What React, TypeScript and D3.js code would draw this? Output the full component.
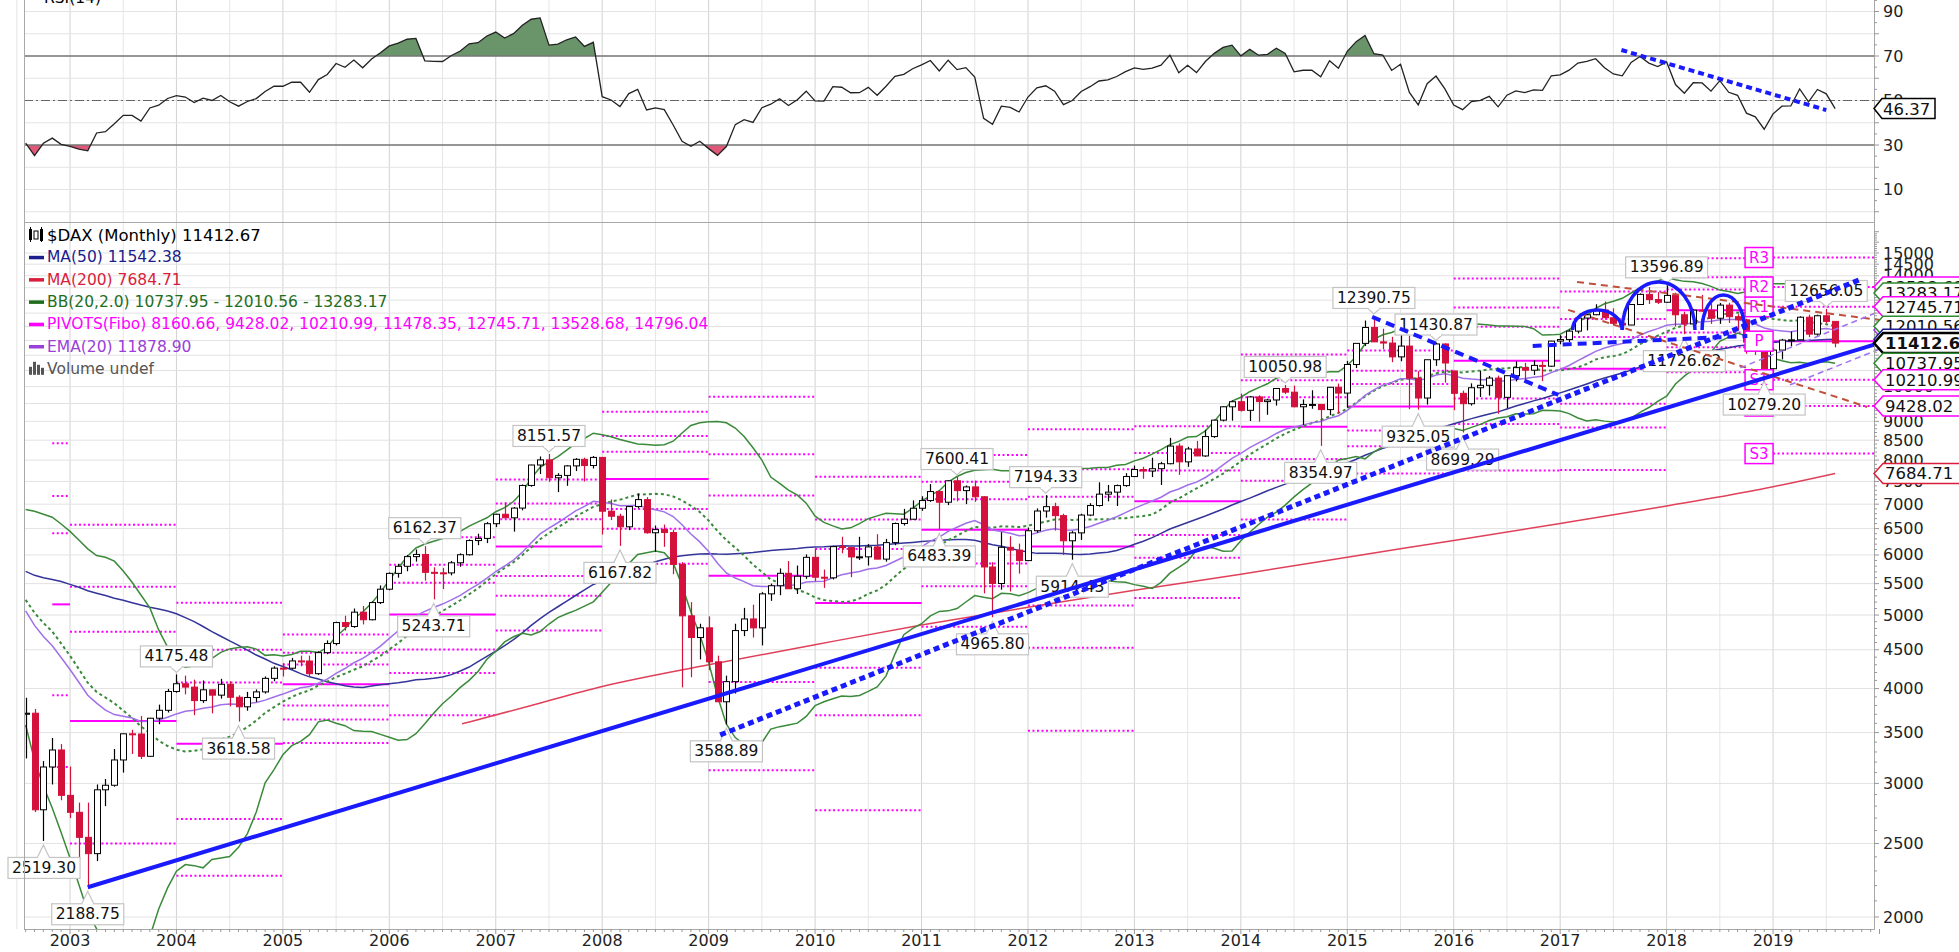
import React from "react";
import * as d3 from "d3";

const WIDTH = 1959;
const HEIGHT = 952;

// ---------- DATA ----------
const firstMonth = "2002-08";

const openVals = [
  3700, 3712, 2769, 3153, 3320,
  2893, 2748, 2547, 2424, 2942, 2983, 3221, 3487, 3485, 3257, 3656, 3745,
  3965, 4059, 4018, 3857, 3985, 3921, 4053, 3896, 3785, 3893, 3960, 4126,
  4256, 4255, 4350, 4349, 4185, 4461, 4586, 4887, 4829, 5044, 4929, 5193,
  5408, 5674, 5797, 5970, 6009, 5692, 5683, 5682, 5859, 6004, 6268, 6309,
  6597, 6789, 6716, 6917, 7409, 7883, 8007, 7584, 7638, 7862, 8020, 7871,
  8067, 6852, 6748, 6535, 6949, 7097, 6418, 6480, 6422, 5831, 4988, 4670,
  4810, 4338, 3843, 4085, 4770, 4941, 4809, 5332, 5465, 5675, 5415, 5625,
  5957, 5608, 5598, 6154, 6136, 5964, 5966, 6148, 5925, 6229, 6601, 6688,
  6914, 7077, 7273, 7041, 7514, 7294, 7376, 7159, 5785, 5502, 6141, 6089,
  5898, 6458, 6856, 6947, 6761, 6264, 6416, 6772, 6971, 7216, 7260, 7406,
  7612, 7776, 7741, 7795, 7914, 8349, 7959, 8276, 8103, 8594, 9033, 9406,
  9552, 9306, 9692, 9556, 9603, 9943, 9833, 9407, 9470, 9474, 9327, 9980,
  9806, 10694, 11402, 11966, 11454, 11414, 10945, 11309, 10259, 9660, 10850, 11382,
  10485, 9798, 9495, 9966, 10039, 10263, 9680, 10337, 10593, 10511, 10665, 10640,
  11481, 11535, 11834, 12313, 12438, 12615, 12325, 12118, 12056, 12829, 13230, 13024,
  12918, 13189, 12436, 12097, 12612, 12605, 12306, 12806, 12364, 12247, 11448, 11257,
  10559, 11173, 11516, 11526, 12344, 11727, 12399, 12189,
];

const highVals = [
  3890, 3760, 3210, 3443, 3380,
  3157, 2830, 2830, 2990, 3040, 3330, 3490, 3530, 3680, 3660, 3810, 3996,
  4175.48, 4160, 4110, 4100, 3990, 4120, 4090, 3920, 3960, 3990, 4150, 4280,
  4320, 4390, 4420, 4420, 4480, 4630, 4900, 4990, 5100, 5140, 5210, 5470,
  5690, 5840, 6000, 6100, 6162.37, 5780, 5770, 5890, 6030, 6290, 6400, 6630,
  6800, 7040, 6940, 7430, 7890, 8090, 8151.57, 7690, 7880, 8050, 8060, 8100,
  8080, 7100, 6800, 6960, 7230, 7150, 6560, 6580, 6480, 5870, 5200, 4870,
  4980, 4420, 4160, 4870, 5110, 5160, 5360, 5500, 5760, 5890, 5810, 6010,
  6110, 5740, 6170, 6340, 6150, 6340, 6200, 6390, 6300, 6620, 6900, 7080,
  7170, 7440, 7300, 7530, 7600.41, 7410, 7520, 7170, 5870, 6430, 6350, 6210,
  6520, 6910, 7194.33, 7030, 6800, 6450, 6800, 7020, 7480, 7420, 7430, 7690,
  7870, 7840, 8060, 7960, 8560, 8420, 8330, 8480, 8770, 9050, 9420, 9590,
  9790, 9720, 9740, 9640, 9950, 10050.98, 10030, 9620, 9890, 9480, 9990, 10093,
  10810, 11410, 12220, 12390.75, 11920, 11630, 11800, 11670, 10480, 10850, 11430.87, 11400,
  10490, 9880, 10100, 10490, 10330, 10340, 10340, 10800, 10750, 10830, 10800, 11490,
  11690, 11890, 12320, 12480, 12840, 12950, 12680, 12320, 12840, 13270, 13525.56, 13320,
  13596.89, 13300, 12550, 12650, 13204, 12870, 12890, 12900, 12460, 12290, 11630, 11480,
  11250, 11560, 11820, 12380, 12440, 12440, 12656.05, 12190,
];

const lowVals = [
  3236, 2750, 2519.3, 2990, 2850,
  2700, 2386, 2188.75, 2370, 2800, 2970, 3100, 3280, 3230, 3250, 3590, 3720,
  3950, 3930, 3690, 3830, 3710, 3880, 3790, 3618.58, 3740, 3840, 3940, 4090,
  4150, 4240, 4280, 4150, 4170, 4440, 4560, 4770, 4810, 4860, 4920, 5170,
  5390, 5600, 5710, 5880, 5550, 5243.71, 5410, 5640, 5790, 5990, 6180, 6220,
  6530, 6710, 6440, 6870, 7380, 7670, 7490, 7260, 7400, 7740, 7500, 7800,
  6384, 6670, 6167.82, 6470, 6910, 6400, 6060, 6150, 5660, 4014, 4140, 4370,
  4230, 3840, 3588.89, 3940, 4690, 4670, 4560, 5220, 5310, 5410, 5330, 5580,
  5540, 5430, 5570, 6030, 5610, 5910, 5810, 5920, 5880, 6180, 6560, 6680,
  6860, 7050, 6483.39, 6980, 7060, 7000, 7050, 5340, 4965.8, 5400, 5370, 5670,
  5890, 6420, 6720, 6460, 6000, 5914.43, 6280, 6750, 6950, 7060, 6960, 7380,
  7600, 7560, 7600, 7420, 7900, 7650, 7840, 8100, 8080, 8560, 9000, 9020,
  9270, 9010, 8990, 9180, 9440, 9780, 9390, 8900, 9350, 8354.97, 9170, 9220,
  9380, 10580, 11310, 11450, 11200, 10770, 10800, 9338, 9325.05, 9470, 10650, 10120,
  9310, 8699.29, 9440, 9690, 9730, 9210, 9370, 10160, 10200, 10360, 10170, 10620,
  11370, 11450, 11750, 11860, 12420, 12310, 12040, 11870, 12050, 12820, 12850, 12850,
  12900, 12000, 11726.62, 12000, 12550, 12100, 12100, 12130, 11870, 11050, 11010, 10279.2,
  10390, 10860, 11300, 11520, 11620, 11670, 12120, 11266,
];

const closeVals = [
  3712, 2769, 3153, 3320, 2893,
  2748, 2547, 2424, 2942, 2983, 3221, 3487, 3485, 3257, 3656, 3745, 3965,
  4059, 4018, 3857, 3985, 3921, 4053, 3896, 3785, 3893, 3960, 4126, 4256,
  4255, 4350, 4349, 4185, 4461, 4586, 4887, 4829, 5044, 4929, 5193, 5408,
  5674, 5797, 5970, 6009, 5692, 5683, 5682, 5859, 6004, 6268, 6309, 6597,
  6789, 6716, 6917, 7409, 7883, 8007, 7584, 7638, 7862, 8020, 7871, 8067,
  6852, 6748, 6535, 6949, 7097, 6418, 6480, 6422, 5831, 4988, 4670, 4810,
  4338, 3843, 4085, 4770, 4941, 4809, 5332, 5465, 5675, 5415, 5625, 5957,
  5608, 5598, 6154, 6136, 5964, 5966, 6148, 5925, 6229, 6601, 6688, 6914,
  7077, 7273, 7041, 7514, 7294, 7376, 7159, 5785, 5502, 6141, 6089, 5898,
  6458, 6856, 6947, 6761, 6264, 6416, 6772, 6971, 7216, 7260, 7406, 7612,
  7776, 7741, 7795, 7914, 8349, 7959, 8276, 8103, 8594, 9033, 9406, 9552,
  9306, 9692, 9556, 9603, 9943, 9833, 9407, 9470, 9474, 9327, 9980, 9806,
  10694, 11402, 11966, 11454, 11414, 10945, 11309, 10259, 9660, 10850, 11382, 10743,
  9798, 9495, 9966, 10039, 10263, 9680, 10337, 10593, 10511, 10665, 10640, 11481,
  11535, 11834, 12313, 12438, 12615, 12325, 12118, 12056, 12829, 13230, 13024, 12917.64,
  13189, 12436, 12097, 12612, 12605, 12306, 12806, 12364, 12247, 11448, 11257, 10558.96,
  11173, 11516, 11526, 12344, 11727, 12399, 12189, 11412.67,
];

// monthly closes Jul 1998 .. Jul 2002 (history used by the indicators)
const preCloses = [
  6171, 5186, 4834, 4671, 5064, 5002,
  5184, 4977, 4884, 5373, 5121, 5379, 5107, 5313, 5150, 5525, 6130, 6958,
  6835, 7644, 7599, 7415, 7109, 6898, 7191, 7313, 6798, 7077, 6372, 6434,
  6796, 6208, 5830, 6265, 6123, 6058, 5862, 5188, 4308, 4560, 5160, 5160,
  5108, 5039, 5397, 5041, 4818, 4383, 3701,
];

// yearly H/L/C before the monthly data (for the Fibonacci pivots)
const preYears = [2001, 2002];
const preYearHigh = [6795, 5467];
const preYearLow = [3539, 2519.3];
const preYearClose = [5160, 2893];

// MA(200): month index (0 = Jan 2003) and value
const ma200Months = [44.2, 52, 60, 72, 84, 96, 108, 120, 132, 144, 156, 168, 180, 190, 199];
const ma200Vals = [3594, 3800, 4025, 4300, 4570, 4850, 5120, 5390, 5660, 5960, 6270, 6600, 6960, 7300, 7684.71];

const yearTicks = [2003, 2004, 2005, 2006, 2007, 2008, 2009, 2010, 2011, 2012, 2013, 2014, 2015, 2016, 2017, 2018, 2019];
const priceTicks = [2000, 2500, 3000, 3500, 4000, 4500, 5000, 5500, 6000, 6500, 7000, 7500, 8000, 8500, 9000, 9500, 10000, 10500, 11000, 11500, 12000, 12500, 13000, 13500, 14000, 14500, 15000];
const rsiLabels = [10, 30, 50, 70, 90];

const peakMonths = ["2002-10", "2003-03", "2004-01", "2004-08", "2006-05", "2006-06", "2007-07", "2008-03", "2009-03", "2011-05", "2011-03", "2011-09", "2012-03", "2012-06", "2014-06", "2014-10", "2015-04", "2015-11", "2015-09", "2016-02", "2018-01", "2018-03", "2018-12", "2019-07"];
const peakValues = [2519.3, 2188.75, 4175.48, 3618.58, 6162.37, 5243.71, 8151.57, 6167.82, 3588.89, 7600.41, 6483.39, 4965.8, 7194.33, 5914.43, 10050.98, 8354.97, 12390.75, 11430.87, 9325.05, 8699.29, 13596.89, 11726.62, 10279.2, 12656.05];
const peakKinds = ["L", "L", "H", "L", "H", "L", "H", "L", "L", "H", "L", "L", "H", "L", "H", "L", "H", "H", "L", "L", "H", "L", "L", "H"];

// drawn annotations in data space: [monthIndex, price]
const solidTrend = [[2, 2188.75], [206, 11600]];
const dottedTrend = [[73.3, 3475], [202, 13866]];
const dashDownTrend = [[146.8, 12356], [167.8, 9751]];
const neckline = [[164.9, 11314], [189.1, 11662]];
const redDashA = [[169.9, 13740], [213, 11878]];
const redDashB = [[168.9, 12622], [202.6, 9402]];
const purpleDashA = [[188.3, 10584], [209.4, 13330]];
const purpleDashB = [[193.9, 10052], [209.4, 11878]];
// arcs: start month, end month, base price, peak price
const hsArcs = [[169.4, 175.0, 11878, 12622], [175.0, 183.2, 11878, 13740], [184.0, 188.8, 11878, 13208]];
const rsiTrend = [[174.9, 72.7], [198, 45.7]];

const legendTexts = [
  "$DAX (Monthly) 11412.67",
  "MA(50) 11542.38",
  "MA(200) 7684.71",
  "BB(20,2.0) 10737.95 - 12010.56 - 13283.17",
  "PIVOTS(Fibo) 8160.66, 9428.02, 10210.99, 11478.35, 12745.71, 13528.68, 14796.04",
  "EMA(20) 11878.90",
  "Volume undef",
];
const legendColors = ["#000000", "#1c1c8c", "#d81e3c", "#1e6e1e", "#ff00ff", "#9a40d8", "#555555"];

const tagValues = [13528.68, 13283.17, 12745.71, 11878.9, 12010.56, 11478.35, 11542.38, 11412.67, 10737.95, 10210.99, 9428.02, 7684.71];
const tagColors = ["#ff00ff", "#2e8b2e", "#ff00ff", "#9a40d8", "#2e8b2e", "#ff00ff", "#1c1c8c", "#000000", "#2e8b2e", "#ff00ff", "#ff00ff", "#d81e3c"];
const rsiLast = 46.37;

const pivotNames = ["S3", "S2", "S1", "P", "R1", "R2", "R3"];

// ---------- LAYOUT ----------
const PL = 24, PR = 1874;
const RSI_B = 222, PT = 222, PB = 929;
const FONT = "DejaVu Sans";

const monthIdx = (s: string) => {
  const [y, m] = s.split("-").map(Number);
  return (y - 2003) * 12 + (m - 1);
};

function textW(s: string, fs: number) {
  let w = 0;
  for (const ch of s) w += ch === "." || ch === "," ? 0.318 : 0.636;
  return w * fs;
}

export default function App() {
  const x = d3.scaleLinear().domain([-5.186, 203.38]).range([PL, PR]);
  const yP = d3.scaleLog().domain([2000, 15000]).range([917, 253]);
  const yR = d3.scaleLinear().domain([30, 70]).range([145, 56]);

  const m0 = monthIdx(firstMonth);
  const n = closeVals.length;
  const mIdx = (i: number) => i + m0;

  // indicators
  const all = [...preCloses, ...closeVals];
  const P0 = preCloses.length;
  const sma = (len: number, j: number) => d3.mean(all.slice(j - len + 1, j + 1)) as number;
  const ma50 = closeVals.map((_, i) => sma(50, i + P0));
  const bbMid = closeVals.map((_, i) => sma(20, i + P0));
  const bbUp = closeVals.map((_, i) => {
    const sl = all.slice(i + P0 - 19, i + P0 + 1);
    const m = d3.mean(sl) as number;
    const sd = Math.sqrt(d3.mean(sl.map((v) => (v - m) * (v - m))) as number);
    return m + 2 * sd;
  });
  const bbLo = closeVals.map((_, i) => 2 * bbMid[i] - bbUp[i]);
  const emaAll: number[] = [];
  const a = 2 / 21;
  for (let j = 19; j < all.length; j++) {
    emaAll[j] = j === 19 ? sma(20, 19) : a * all[j] + (1 - a) * emaAll[j - 1];
  }
  const ema = closeVals.map((_, i) => emaAll[i + P0]);
  const rsiAll: number[] = [];
  let ag = 0, al = 0;
  for (let j = 1; j < all.length; j++) {
    const d = all[j] - all[j - 1];
    const g = Math.max(d, 0), l = Math.max(-d, 0);
    if (j <= 14) { ag += g / 14; al += l / 14; } else { ag = (ag * 13 + g) / 14; al = (al * 13 + l) / 14; }
    rsiAll[j] = j >= 14 ? 100 - 100 / (1 + ag / al) : NaN;
  }
  const rsi = closeVals.map((_, i) => rsiAll[i + P0]);

  // yearly HLC for pivots
  const yearHLC = new Map<number, [number, number, number]>();
  preYears.forEach((y, k) => yearHLC.set(y, [preYearHigh[k], preYearLow[k], preYearClose[k]]));
  for (let y = 2003; y <= 2018; y++) {
    const idxs = d3.range(n).filter((i) => Math.floor(mIdx(i) / 12) + 2003 === y);
    yearHLC.set(y, [d3.max(idxs, (i) => highVals[i]) as number, d3.min(idxs, (i) => lowVals[i]) as number, closeVals[idxs[idxs.length - 1]]]);
  }
  const fib = [-1, -0.618, -0.382, 0, 0.382, 0.618, 1];
  const pivots = d3.range(2002, 2020).map((y) => {
    const [h, l, c] = yearHLC.get(y - 1)!;
    const p = (h + l + c) / 3;
    const r = h - l;
    const x1 = y === 2002 ? x(-2) : x((y - 2003) * 12);
    const x2 = y === 2019 ? PR : x((y + 1 - 2003) * 12);
    return { y, x1, x2, levels: fib.map((f) => p + f * r) };
  });

  const priceLine = (vals: number[]) =>
    d3.line<number>().x((_, i) => x(mIdx(i))).y((v) => yP(v))(vals) as string;
  const ma200Path = d3.line<number>().curve(d3.curveMonotoneX).x((_, i) => x(ma200Months[i])).y((v) => yP(v))(ma200Vals) as string;
  const rsiLine = d3.line<number>().x((_, i) => x(mIdx(i))).y((v) => yR(v))(rsi) as string;
  const rsiArea = (base: number) =>
    d3.area<number>().x((_, i) => x(mIdx(i))).y0(yR(base)).y1((v) => yR(v))(rsi) as string;
  const seg = (pts: number[][]) => d3.line<number[]>().x((p) => x(p[0])).y((p) => yP(p[1]))(pts) as string;

  const jan = (y: number) => x((y - 2003) * 12);
  const vGrid: { xv: number; major: boolean }[] = [];
  for (let y = 2002; y <= 2019; y++) {
    if (y >= 2003) vGrid.push({ xv: jan(y), major: true });
    vGrid.push({ xv: x((y - 2003) * 12 + 6), major: false });
  }

  const minorPrice: number[] = [];
  for (let v = 2000; v <= 16000; v += 100) minorPrice.push(v);

  const pivot2019 = pivots[pivots.length - 1];

  return (
    <svg width={WIDTH} height={HEIGHT} style={{ position: "absolute", left: 0, top: 0, background: "#fff" }} fontFamily={FONT}>
      <defs>
        <clipPath id="rsiClip"><rect x={PL} y={0} width={PR - PL} height={RSI_B} /></clipPath>
        <clipPath id="above70"><rect x={PL} y={0} width={PR - PL} height={yR(70)} /></clipPath>
        <clipPath id="below30"><rect x={PL} y={yR(30)} width={PR - PL} height={RSI_B - yR(30)} /></clipPath>
        <clipPath id="priceClip"><rect x={PL} y={PT} width={PR - PL} height={PB - PT} /></clipPath>
        <clipPath id="wideClip"><rect x={PL} y={PT} width={WIDTH - PL} height={PB - PT} /></clipPath>
      </defs>
      <rect x={0} y={0} width={WIDTH} height={HEIGHT} fill="#fff" />

      {/* vertical grid */}
      {vGrid.map((g, k) => (
        <line key={"vg" + k} x1={g.xv} x2={g.xv} y1={0} y2={PB} stroke={g.major ? "#d2d2d2" : "#e6e6e6"} strokeWidth={1} />
      ))}
      {/* RSI horizontal grid */}
      {d3.range(0, 100, 10).map((v) => (
        <line key={"rg" + v} x1={PL} x2={PR} y1={yR(v)} y2={yR(v)} stroke="#e4e4e4" />
      ))}
      {/* price horizontal grid */}
      {priceTicks.map((v) => (
        <line key={"pg" + v} x1={PL} x2={PR} y1={yP(v)} y2={yP(v)} stroke="#e2e2e2" />
      ))}

      {/* RSI panel */}
      <g clipPath="url(#rsiClip)">
        <path d={rsiArea(70)} fill="#6a946a" clipPath="url(#above70)" />
        <path d={rsiArea(30)} fill="#e05878" clipPath="url(#below30)" />
        <line x1={PL} x2={PR} y1={yR(70)} y2={yR(70)} stroke="#777" strokeWidth={1.5} />
        <line x1={PL} x2={PR} y1={yR(30)} y2={yR(30)} stroke="#777" strokeWidth={1.5} />
        <line x1={PL} x2={PR} y1={yR(50)} y2={yR(50)} stroke="#666" strokeWidth={1.2} strokeDasharray="9 3 2 3" />
        <path d={rsiLine} fill="none" stroke="#222" strokeWidth={1.3} />
        <line x1={x(rsiTrend[0][0])} y1={yR(rsiTrend[0][1])} x2={x(rsiTrend[1][0])} y2={yR(rsiTrend[1][1])} stroke="#1a1aff" strokeWidth={4} strokeDasharray="6 4" />
      </g>
      <text x={44} y={3} fontSize={15.5} fill="#000">RSI(14)</text>

      {/* price panel */}
      <g clipPath="url(#priceClip)">
        {pivots.map((p) => (
          <g key={"pv" + p.y}>
            {p.levels.map((v, k) => (
              <line key={k} x1={p.x1} x2={p.x2} y1={yP(v)} y2={yP(v)} stroke="#ff00ff"
                strokeWidth={2} strokeDasharray={k === 3 ? undefined : "2 2.5"} />
            ))}
          </g>
        ))}
        <path d={ma200Path} fill="none" stroke="#e0405a" strokeWidth={1.5} />
        <path d={priceLine(ma50)} fill="none" stroke="#34349a" strokeWidth={1.5} />
        <path d={priceLine(bbUp)} fill="none" stroke="#3a8a3a" strokeWidth={1.5} />
        <path d={priceLine(bbLo)} fill="none" stroke="#3a8a3a" strokeWidth={1.5} />
        <path d={priceLine(bbMid)} fill="none" stroke="#3a8a3a" strokeWidth={2} strokeDasharray="3 3" />
        <path d={priceLine(ema)} fill="none" stroke="#a070e8" strokeWidth={1.5} />

        {closeVals.map((c, i) => {
          const o = openVals[i];
          const up = c >= o;
          const cx = Math.round(x(mIdx(i))) + 0.5;
          const col = up ? "#000" : "#d4103c";
          const yt = yP(Math.max(o, c));
          const yb = yP(Math.min(o, c));
          return (
            <g key={"c" + i}>
              <line x1={cx} x2={cx} y1={yP(highVals[i])} y2={yP(lowVals[i])} stroke={col} strokeWidth={1.2} />
              <rect x={cx - 3} y={yt} width={6} height={Math.max(1, yb - yt)} fill={up ? "#fff" : "#d4103c"} stroke={col} strokeWidth={1} />
            </g>
          );
        })}

        {pivot2019.levels.map((v, k) => {
          const xr = pivot2019.x1 + 1;
          return (
            <g key={"pn" + k}>
              <rect x={xr - 29} y={yP(v) - 10} width={28} height={20} fill="#fff" stroke="#ff00ff" strokeWidth={1.5} />
              <text x={xr - 15} y={yP(v)} fontSize={15} textAnchor="middle" dominantBaseline="central" fill="#ff00ff">{pivotNames[k]}</text>
            </g>
          );
        })}
      </g>

      {/* high / low callouts */}
      {peakValues.map((v, k) => {
        const ax = x(monthIdx(peakMonths[k]));
        const ay = yP(v);
        const txt = v.toFixed(2);
        const w = textW(txt, 15.5) + 8;
        const h = 21;
        const hi = peakKinds[k] === "H";
        const cy = hi ? ay - 18 : ay + 27;
        const edge = hi ? cy + h / 2 : cy - h / 2;
        const tip = hi ? ay - 2 : ay + 4;
        const bx = Math.max(ax - w / 2, 8);
        return (
          <g key={"pl" + k}>
            <rect x={bx} y={cy - h / 2} width={w} height={h} fill="#fff" stroke="#c4c4c4" strokeWidth={1.2} />
            <path d={`M${ax - 6},${edge} L${ax},${tip} L${ax + 6},${edge}`} fill="#fff" stroke="#c4c4c4" strokeWidth={1.2} />
            <line x1={ax - 5} x2={ax + 5} y1={edge} y2={edge} stroke="#fff" strokeWidth={2} />
            <text x={bx + w / 2} y={cy} fontSize={15.5} textAnchor="middle" dominantBaseline="central" fill="#111">{txt}</text>
          </g>
        );
      })}

      {/* drawn trendlines */}
      <g clipPath="url(#wideClip)" fill="none">
        <path d={seg(redDashA)} stroke="#c0503c" strokeWidth={2} strokeDasharray="7 5" />
        <path d={seg(redDashB)} stroke="#c0503c" strokeWidth={2} strokeDasharray="7 5" />
        <path d={seg(purpleDashA)} stroke="#a070f0" strokeWidth={1.5} strokeDasharray="6 4" />
        <path d={seg(purpleDashB)} stroke="#a070f0" strokeWidth={1.5} strokeDasharray="6 4" />
        <path d={seg(solidTrend)} stroke="#1a1aff" strokeWidth={4} />
        <path d={seg(dottedTrend)} stroke="#1a1aff" strokeWidth={5} strokeDasharray="6 4" />
        <path d={seg(dashDownTrend)} stroke="#1a1aff" strokeWidth={4} strokeDasharray="9 6" />
        <path d={seg(neckline)} stroke="#1a1aff" strokeWidth={4} strokeDasharray="9 6" />
        {hsArcs.map((arc, k) => {
          const x1 = x(arc[0]), x2 = x(arc[1]);
          const yb = yP(arc[2]), yt = yP(arc[3]);
          const rx = (x2 - x1) / 2, ry = yb - yt;
          return <path key={"arc" + k} d={`M${x1},${yb} A${rx},${ry} 0 0 1 ${x2},${yb}`} stroke="#1a1aff" strokeWidth={3.5} />;
        })}
      </g>

      {/* frames */}
      <path d={`M${PL + 0.5},0 V${RSI_B} M${PR + 0.5},0 V${PB}`} fill="none" stroke="#a8a8a8" />
      <rect x={PL + 0.5} y={PT + 0.5} width={PR - PL} height={PB - PT} fill="none" stroke="#a8a8a8" />

      {/* right axis: RSI */}
      {d3.range(0, 100, 5).map((v) => (
        <line key={"rt" + v} x1={PR} x2={PR + (v % 10 === 0 ? 5 : 3)} y1={yR(v)} y2={yR(v)} stroke="#999" />
      ))}
      {rsiLabels.map((v) => (
        <text key={"rl" + v} x={PR + 9} y={yR(v)} fontSize={16} dominantBaseline="central" fill="#222">{v}</text>
      ))}
      {/* right axis: price */}
      {minorPrice.filter((v) => yP(v) > PT && yP(v) < PB).map((v) => (
        <line key={"pt" + v} x1={PR} x2={PR + (v % 500 === 0 ? 5 : 3)} y1={yP(v)} y2={yP(v)} stroke="#999" />
      ))}
      {priceTicks.map((v) => (
        <text key={"pl" + v} x={PR + 9} y={yP(v)} fontSize={16} dominantBaseline="central" fill="#222">{v}</text>
      ))}
      {/* bottom axis */}
      {d3.range(-5, 205).map((m) => (
        <line key={"bt" + m} x1={x(m)} x2={x(m)} y1={PB} y2={PB + (m % 12 === 0 ? 5 : 3)} stroke="#999" />
      ))}
      {yearTicks.map((y) => (
        <text key={"yl" + y} x={jan(y)} y={940} fontSize={16} textAnchor="middle" dominantBaseline="central" fill="#222">{y}</text>
      ))}

      {/* legend */}
      {legendTexts.map((t, k) => {
        const cy = 235 + k * 22.3;
        return (
          <g key={"lg" + k}>
            {k === 0 && (
              <g fill="#000">
                <rect x={29} y={cy - 6} width={3} height={11} />
                <rect x={34} y={cy - 4} width={4} height={8} fill="none" stroke="#000" />
                <rect x={40} y={cy - 6} width={3} height={12} />
                <line x1={30.5} x2={30.5} y1={cy - 8} y2={cy + 7} stroke="#000" />
                <line x1={41.5} x2={41.5} y1={cy - 8} y2={cy + 7} stroke="#000" />
              </g>
            )}
            {k > 0 && k < 6 && <rect x={29} y={cy - 1.5} width={15} height={3.5} fill={legendColors[k]} />}
            {k === 6 && (
              <g fill="#555">
                <rect x={29} y={cy - 2} width={3} height={8} />
                <rect x={33} y={cy - 7} width={3} height={13} />
                <rect x={37} y={cy - 4} width={3} height={10} />
                <rect x={41} y={cy - 1} width={3} height={7} />
              </g>
            )}
            <text x={47} y={cy} fontSize={k === 0 ? 16.5 : 15.5} dominantBaseline="central" fill={legendColors[k]}>{t}</text>
          </g>
        );
      })}

      {/* right value tags */}
      {tagValues.map((v, k) => {
        const ty = yP(v);
        const bold = k === 7;
        return (
          <g key={"tg" + k}>
            <path d={`M${PR},${ty} L${PR + 9},${ty - 10} L${WIDTH + 2},${ty - 10} L${WIDTH + 2},${ty + 10} L${PR + 9},${ty + 10} Z`}
              fill="#fff" stroke={tagColors[k]} strokeWidth={bold ? 2.5 : 1.5} />
            <text x={PR + 11} y={ty + 0.5} fontSize={16.5} fontWeight={bold ? "bold" : "normal"} dominantBaseline="central" fill="#111">
              {v.toFixed(2)}
            </text>
          </g>
        );
      })}
      {(() => {
        const ty = yR(rsiLast);
        return (
          <g>
            <path d={`M${PR},${ty} L${PR + 8},${ty - 10} L${1935},${ty - 10} L${1935},${ty + 10} L${PR + 8},${ty + 10} Z`} fill="#fff" stroke="#000" strokeWidth={1.5} />
            <text x={PR + 9} y={ty + 0.5} fontSize={16.5} dominantBaseline="central" fill="#111">{rsiLast.toFixed(2)}</text>
          </g>
        );
      })()}
    </svg>
  );
}
